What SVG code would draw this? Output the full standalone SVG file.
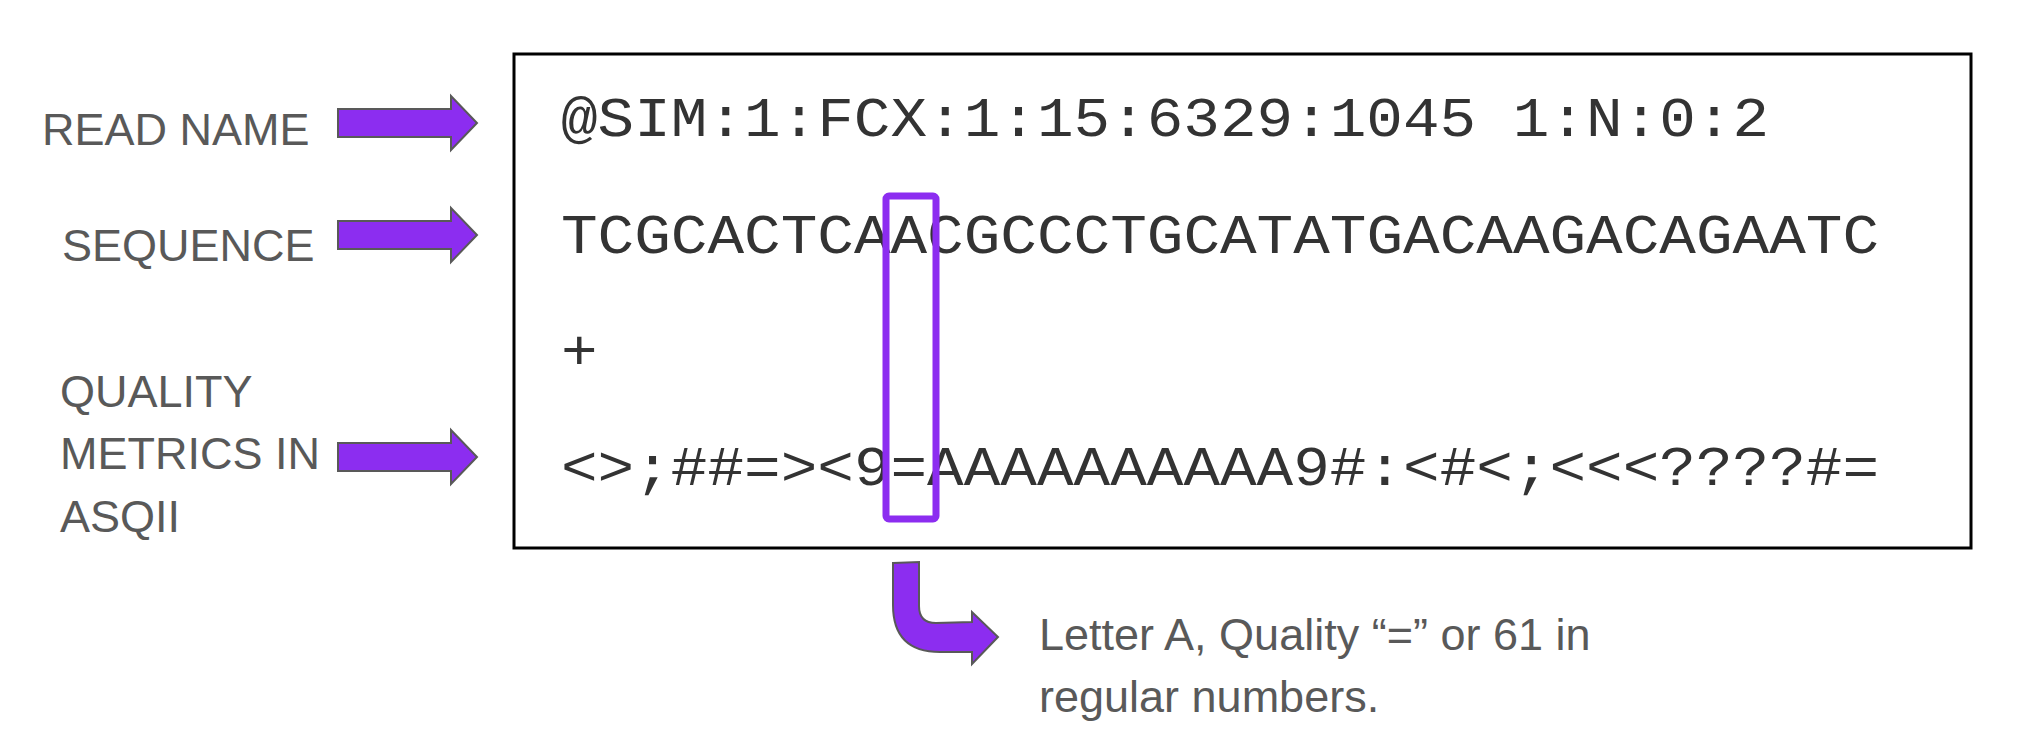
<svg xmlns="http://www.w3.org/2000/svg" width="2024" height="738" viewBox="0 0 2024 738">
<defs>
<style>
.lbl{font-family:"Liberation Sans",Arial,sans-serif;font-size:45px;fill:#595959}
.mono{font-family:"Liberation Mono","Courier New",monospace;font-size:56px;fill:#333333}
.arr{fill:#8c2df0;stroke:#595959;stroke-width:2;stroke-linejoin:miter}
</style>
<path id="rarrow" d="M338 -14 L451 -14 L451 -27 L477 0 L451 27 L451 14 L338 14 Z"/>
</defs>
<rect width="2024" height="738" fill="#ffffff"/>
<g id="record">
<rect x="514" y="54" width="1457" height="494" fill="#ffffff" stroke="#000000" stroke-width="3"/>
<text class="mono" x="561" y="136" textLength="1208" lengthAdjust="spacingAndGlyphs">@SIM:1:FCX:1:15:6329:1045 1:N:0:2</text>
<text class="mono" x="561" y="253" textLength="1318" lengthAdjust="spacingAndGlyphs">TCGCACTCAACGCCCTGCATATGACAAGACAGAATC</text>
<text class="mono" x="561" y="369" textLength="36.6" lengthAdjust="spacingAndGlyphs">+</text>
<text class="mono" x="561" y="485" textLength="1318" lengthAdjust="spacingAndGlyphs">&lt;&gt;;##=&gt;&lt;9=AAAAAAAAAA9#:&lt;#&lt;;&lt;&lt;&lt;????#=</text>
</g>
<g id="highlight">
<rect x="886" y="196" width="50" height="323" rx="3" fill="none" stroke="#8c2df0" stroke-width="7"/>
</g>
<g id="read-name">
<text class="lbl" x="42" y="145">READ NAME</text>
</g>
<g id="sequence">
<text class="lbl" x="62" y="261">SEQUENCE</text>
</g>
<g id="quality">
<text class="lbl" x="60" y="407">QUALITY</text>
<text class="lbl" x="60" y="469">METRICS IN</text>
<text class="lbl" x="60" y="532">ASQII</text>
</g>
<g id="note">
<text class="lbl" x="1039" y="650">Letter A, Quality “=” or 61 in</text>
<text class="lbl" x="1039" y="712">regular numbers.</text>
</g>
<g id="connectors">
<use href="#rarrow" class="arr" transform="translate(0,123)"/>
<use href="#rarrow" class="arr" transform="translate(0,235)"/>
<use href="#rarrow" class="arr" transform="translate(0,457)"/>
<path class="arr" d="M893 563 L919 562 L919 606 Q919 623 936 623 L972 622 L972 612 L998 637 L972 664 L972 652 L940 652 Q893 652 893 605 Z"/>
</g>
</svg>
